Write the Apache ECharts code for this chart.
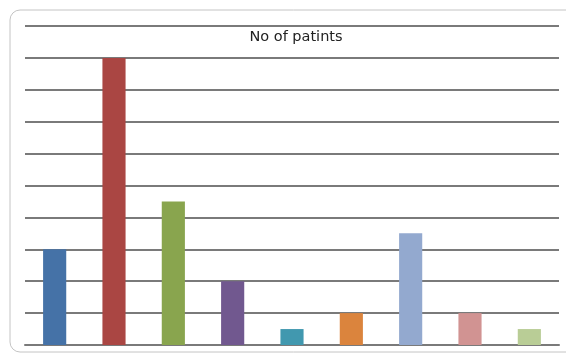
<!DOCTYPE html>
<html>
<head>
<meta charset="utf-8">
<script src="https://cdn.jsdelivr.net/npm/echarts@6/dist/echarts.min.js"></script>
<style>
  html, body { margin: 0; padding: 0; background: #fff; }
  #chart { width: 566px; height: 356px; }
</style>
</head>
<body>
<div id="chart"></div>
<script>
// categories are unlabelled in the picture
const categories = ['1', '2', '3', '4', '5', '6', '7', '8', '9']
const patients = [3, 9, 4.5, 2, 0.5, 1, 3.5, 1, 0.5]
const barColors = ['#4572A7', '#AA4643', '#89A54E', '#71588F', '#4198AF', '#DB843D', '#93A9CF', '#D19392', '#B9CD96']

const chart = echarts.init(document.getElementById('chart'))

const option = {
  animation: false,
  backgroundColor: '#ffffff',
  title: {
    text: 'No of patints',
    left: 291,
    textAlign: 'center',
    top: 25,
    textStyle: {
      fontFamily: 'DejaVu Sans',
      fontSize: 14.5,
      fontWeight: 'normal',
      color: '#222'
    }
  },
  graphic: [
    {
      type: 'rect',
      shape: { x: 10, y: 10, width: 580, height: 342, r: 10 },
      style: { fill: 'none', stroke: '#c4c4c4', lineWidth: 1 },
      z: -1
    }
  ],
  grid: { left: 25, right: 7, top: 26, bottom: 11 },
  xAxis: {
    type: 'category',
    data: categories,
    axisLine: { show: true, lineStyle: { color: '#7a7a7a', width: 2 } },
    axisTick: { show: false },
    axisLabel: { show: false }
  },
  yAxis: {
    type: 'value',
    min: 0,
    max: 10,
    interval: 1,
    axisLine: { show: false },
    axisTick: { show: false },
    axisLabel: { show: false },
    splitLine: { lineStyle: { color: '#7a7a7a', width: 2 } }
  },
  series: [
    {
      name: 'No of patints',
      type: 'bar',
      barWidth: '39%',
      data: patients.map((v, i) => ({
        value: v,
        itemStyle: { color: barColors[i] }
      }))
    }
  ]
}

chart.setOption(option)
</script>
</body>
</html>
